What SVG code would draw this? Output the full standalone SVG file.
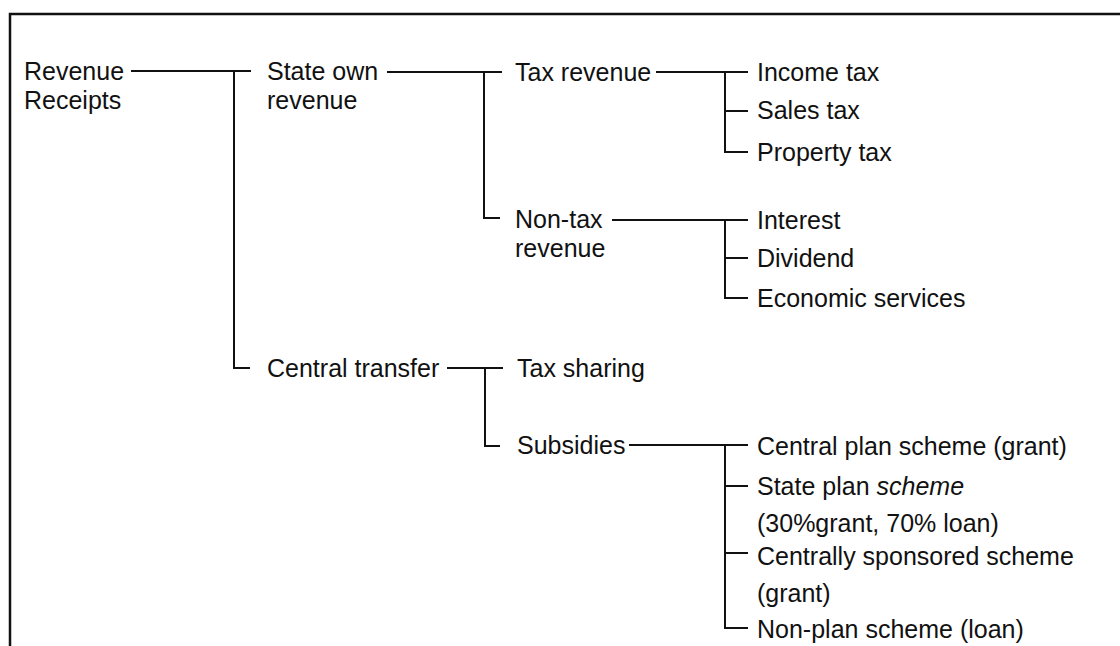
<svg xmlns="http://www.w3.org/2000/svg" width="1120" height="646" viewBox="0 0 1120 646">
<style>
  text { font-family: "Liberation Sans", Arial, sans-serif; font-size: 25px; fill: #111; }
  .it { font-style: italic; }
  .c line { stroke: #111; stroke-width: 2; stroke-linecap: square; }
  .frame { stroke: #111; stroke-width: 2.5; fill: none; }
</style>
<rect width="1120" height="646" fill="#fff"/>
<path class="frame" d="M10,646 V14 H1120"/>
<g id="connectors" class="c">
  <line x1="132" y1="71" x2="250" y2="71"/>
  <line x1="234" y1="71" x2="234" y2="368"/>
  <line x1="234" y1="368" x2="249" y2="368"/>
  <line x1="388" y1="72" x2="501" y2="72"/>
  <line x1="484" y1="72" x2="484" y2="218"/>
  <line x1="484" y1="218" x2="499" y2="218"/>
  <line x1="657" y1="72" x2="747" y2="72"/>
  <line x1="725" y1="72" x2="725" y2="152"/>
  <line x1="725" y1="111" x2="747" y2="111"/>
  <line x1="725" y1="152" x2="747" y2="152"/>
  <line x1="613" y1="220" x2="747" y2="220"/>
  <line x1="725" y1="220" x2="725" y2="298"/>
  <line x1="725" y1="258" x2="747" y2="258"/>
  <line x1="725" y1="298" x2="747" y2="298"/>
  <line x1="448" y1="368" x2="502" y2="368"/>
  <line x1="485" y1="368" x2="485" y2="446"/>
  <line x1="485" y1="446" x2="499" y2="446"/>
  <line x1="630" y1="445" x2="747" y2="445"/>
  <line x1="725" y1="445" x2="725" y2="628"/>
  <line x1="725" y1="486" x2="747" y2="486"/>
  <line x1="725" y1="553" x2="747" y2="553"/>
  <line x1="725" y1="628" x2="747" y2="628"/>
</g>
<g id="revenue-receipts"><text x="24" y="80">Revenue</text><text x="24" y="109">Receipts</text></g>
<g id="state-own-revenue"><text x="267" y="80">State own</text><text x="267" y="109">revenue</text></g>
<g id="tax-revenue"><text x="515" y="81">Tax revenue</text></g>
<g id="income-tax"><text x="757" y="81">Income tax</text></g>
<g id="sales-tax"><text x="757" y="119">Sales tax</text></g>
<g id="property-tax"><text x="757" y="161">Property tax</text></g>
<g id="non-tax-revenue"><text x="515" y="228">Non-tax</text><text x="515" y="257">revenue</text></g>
<g id="interest"><text x="757" y="229">Interest</text></g>
<g id="dividend"><text x="757" y="267">Dividend</text></g>
<g id="economic-services"><text x="757" y="307">Economic services</text></g>
<g id="central-transfer"><text x="267" y="377">Central transfer</text></g>
<g id="tax-sharing"><text x="517" y="377">Tax sharing</text></g>
<g id="subsidies"><text x="517" y="454">Subsidies</text></g>
<g id="central-plan-scheme"><text x="757" y="455">Central plan scheme (grant)</text></g>
<g id="state-plan-scheme"><text x="757" y="495">State plan <tspan class="it">scheme</tspan></text><text x="757" y="532">(30%grant, 70% loan)</text></g>
<g id="centrally-sponsored-scheme"><text x="757" y="565">Centrally sponsored scheme</text><text x="757" y="602">(grant)</text></g>
<g id="non-plan-scheme"><text x="757" y="638">Non-plan scheme (loan)</text></g>
</svg>
